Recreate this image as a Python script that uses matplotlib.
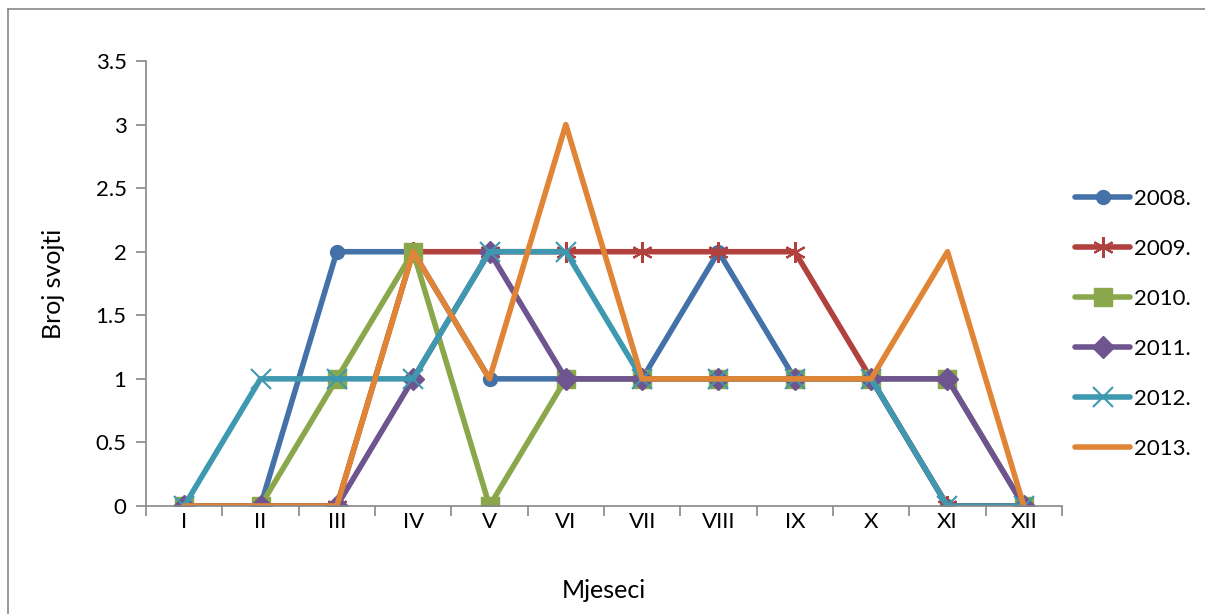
import numpy as np
import matplotlib.pyplot as plt
from matplotlib.lines import Line2D

plt.rcParams['font.family'] = ['Lato', 'DejaVu Sans']

months = ['I', 'II', 'III', 'IV', 'V', 'VI', 'VII', 'VIII', 'IX', 'X', 'XI', 'XII']
y2008 = [0, 0, 2, 2, 1, 1, 1, 2, 1, 1, 0, 0]
y2009 = [0, 0, 0, 2, 2, 2, 2, 2, 2, 1, 0, 0]
y2010 = [0, 0, 1, 2, 0, 1, 1, 1, 1, 1, 1, 0]
y2011 = [0, 0, 0, 1, 2, 1, 1, 1, 1, 1, 1, 0]
y2012 = [0, 1, 1, 1, 2, 2, 1, 1, 1, 1, 0, 0]
y2013 = [0, 0, 0, 2, 1, 3, 1, 1, 1, 1, 2, 0]

series = [
    ('2008.', y2008, '#4472a8', 'o', 10),
    ('2009.', y2009, '#b0413e', (6, 2, 0), 15),
    ('2010.', y2010, '#8aa84b', 's', 13),
    ('2011.', y2011, '#6f558f', 'D', 11),
    ('2012.', y2012, '#3e98b0', 'x', 15),
    ('2013.', y2013, '#e08436', None, 0),
]

fig = plt.figure(figsize=(12.05, 6.14), dpi=100)
ax = fig.add_axes([146 / 1205, 1 - 506 / 614, (1062 - 146) / 1205, (506 - 61) / 614])

x = np.arange(len(months))
for label, vals, color, marker, ms in series:
    ax.plot(x, vals, color=color, lw=4, marker=marker, markersize=ms,
            markeredgewidth=1.5 if marker in ('x', (6, 2, 0)) else 1,
            markeredgecolor=color, label=label, solid_capstyle='round')

ax.set_xlim(-0.5, 11.5)
ax.set_ylim(0, 3.5)
ax.set_yticks(np.arange(0, 3.51, 0.5))
ax.set_yticklabels(['0', '0.5', '1', '1.5', '2', '2.5', '3', '3.5'])
ax.set_xticks(x)
ax.set_xticklabels(months)
ax.set_xticks(np.arange(-0.5, 11.6, 1), minor=True)
ax.tick_params(axis='x', which='major', length=0, pad=4, labelsize=16)
ax.tick_params(axis='x', which='minor', length=7, color='#888888', width=1.2)
ax.tick_params(axis='y', length=7, color='#888888', width=1.2, labelsize=16, pad=7)

for s in ['top', 'right']:
    ax.spines[s].set_visible(False)
for s in ['left', 'bottom']:
    ax.spines[s].set_color('#888888')
    ax.spines[s].set_linewidth(1.2)

ax.set_xlabel('Mjeseci', fontsize=18, labelpad=34)
ax.set_ylabel('Broj svojti', fontsize=18, labelpad=22)

leg = fig.legend(loc='upper left', bbox_to_anchor=(1066 / 1205, 1 - 180 / 614),
                 frameon=False, fontsize=16, handlelength=2.5, labelspacing=1.35,
                 handletextpad=0.15, borderaxespad=0)

# chart area border
fig.add_artist(Line2D([8 / 1205, 8 / 1205], [0, 1 - 9 / 614], color='#888888', lw=1.2,
                      transform=fig.transFigure))
fig.add_artist(Line2D([8 / 1205, 1], [1 - 9 / 614, 1 - 9 / 614], color='#888888', lw=1.2,
                      transform=fig.transFigure))

fig.savefig('out.png', dpi=100)
